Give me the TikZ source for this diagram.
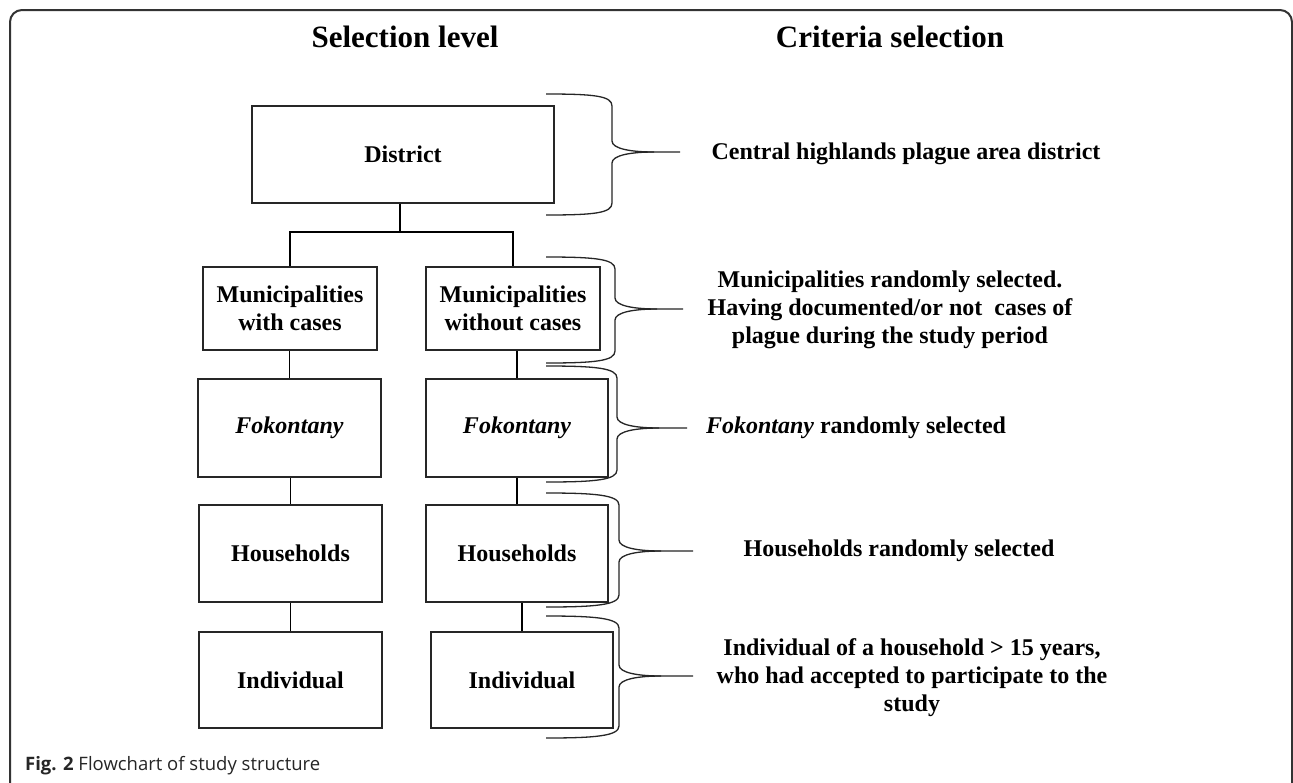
\documentclass[tikz,border=0pt]{standalone}
\usepackage{fontspec}
\setmainfont{Liberation Serif}
\newfontfamily\capfont{Open Sans}
\newcommand\boxfont{\fontsize{24}{28}\selectfont\bfseries}
\newcommand\headfont{\fontsize{31}{35}\selectfont\bfseries}
\newcommand\mybrace[5]{% top, bottom, tip y, vertical x, tip end x
  \draw[bracestyle] (546,#1) .. controls (595,#1) and (#4,#1+2) .. (#4,#1+12)
    -- (#4,#3-11) .. controls (#4,#3-3) and (#4+20,#3) .. (#4+42,#3) -- (#5,#3);
  \draw[bracestyle] (#4+42,#3) .. controls (#4+20,#3) and (#4,#3+3) .. (#4,#3+11)
    -- (#4,#2-12) .. controls (#4,#2-2) and (595,#2) .. (546,#2);
}
\tikzset{
  box/.style={draw=black!85, line width=1.3pt, align=center, inner sep=0pt, font=\boxfont},
  link/.style={draw=black, line width=1.8pt},
  bracestyle/.style={draw=black!85, line width=1.3pt},
  crit/.style={align=center, inner sep=0pt, font=\boxfont},
  frame/.style={draw=black!80, line width=2pt, rounded corners=12pt},
}
\begin{document}
\begin{tikzpicture}[x=1pt, y=-1pt]
\useasboundingbox (0,0) rectangle (1293,782);
\clip (0,0) rectangle (1293,782);
\fill[white] (0,0) rectangle (1293,782);
\draw[frame] (10,810) -- (10,10) -- (1292,10) -- (1292,810);

% headers
\node[font=\headfont] (hsel) at (405,37) {Selection level};
\node[font=\headfont] (hcrit) at (890,37) {Criteria selection};

% boxes
\node[box, minimum width=302pt, minimum height=97pt] (d) at (403,154.5) {District};
\node[box, minimum width=174pt, minimum height=83pt] (m1) at (290,308.5) {Municipalities\\with cases};
\node[box, minimum width=174pt, minimum height=83pt] (m2) at (513,308.5) {Municipalities\\without cases};
\node[box, minimum width=183pt, minimum height=98pt] (f1) at (289.5,428) {\itshape Fokontany};
\node[box, minimum width=182pt, minimum height=98pt] (f2) at (517,428) {\itshape Fokontany};
\node[box, minimum width=183pt, minimum height=97pt] (h1) at (290.5,553.5) {Households};
\node[box, minimum width=182pt, minimum height=97pt] (h2) at (517,553.5) {Households};
\node[box, minimum width=183pt, minimum height=96pt] (i1) at (290.5,680) {Individual};
\node[box, minimum width=182pt, minimum height=96pt] (i2) at (522,680) {Individual};

% connectors
\coordinate (j) at (400,232);
\draw[link] (d.south -| j) -- (j);
\draw[link] (m1.north) |- (j) -| (m2.north);
\draw[link] (f1.north) -- (f1.north |- m1.south);
\draw[link] (f2.north) -- (f2.north |- m2.south);
\draw[link] (h1.north) -- (h1.north |- f1.south);
\draw[link] (h2.north) -- (h2.north |- f2.south);
\draw[link] (i1.north) -- (i1.north |- h1.south);
\draw[link] (i2.north) -- (i2.north |- h2.south);

% braces
\mybrace{94}{215}{152}{612}{680}
\mybrace{257}{363}{309}{615}{683}
\mybrace{366}{482}{428}{617}{687}
\mybrace{493}{607}{551}{619}{693}
\mybrace{616}{738}{676}{619}{693}

% criteria
\node[crit] (c1) at (906,154) {Central highlands plague area district};
\node[crit] (c2) at (890,310) {Municipalities randomly selected.\\Having documented/or not\ \ cases of\\plague during the study period};
\node[crit] (c3) at (856,428) {\itshape Fokontany\upshape\ randomly selected};
\node[crit] (c4) at (899,551) {Households randomly selected};
\node[crit] (c5) at (912,678) {Individual of a household {>} 15 years,\\who had accepted to participate to the\\study};

% caption
\node[anchor=west, inner sep=0pt, font=\capfont\fontsize{18.5}{22}\selectfont, text=black!85] (cap) at (25,766) {\textbf{Fig. 2} Flowchart of study structure};
\end{tikzpicture}
\end{document}
